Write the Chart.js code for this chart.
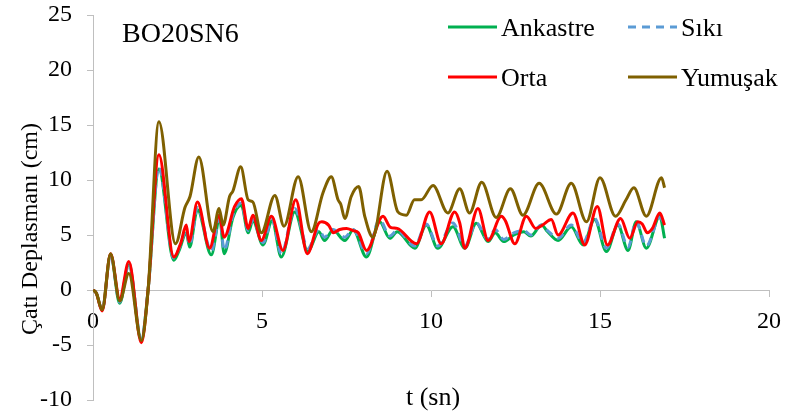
<!DOCTYPE html>
<html>
<head>
<meta charset="utf-8">
<script src="https://cdn.jsdelivr.net/npm/chart.js@4/dist/chart.umd.min.js"></script>
<style>
  html, body { margin: 0; padding: 0; background: #fff; }
  #wrap { width: 786px; height: 416px; }
</style>
</head>
<body>
<div id="wrap"><canvas id="roofChart"></canvas></div>
<script>
// çatı deplasmanı - zaman, [t (sn), deplasman (cm)]
const ankastre = [[0,0],[0.1,-0.3],[0.27,-1.8],[0.52,3.2],[0.79,-1.2],[1.06,2.3],[1.43,-4.5],[1.63,0],[1.95,11.0],
  [2.39,2.7],[2.55,3.6],[2.76,5.2],[2.86,3.9],[3.09,7.3],[3.5,3.2],[3.75,6.5],[3.88,3.3],[4.14,6.6],[4.39,7.7],
  [4.59,5.2],[4.73,6.3],[5.03,4.1],[5.3,6.3],[5.57,3.0],[5.97,7.1],[6.36,3.5],[6.68,5.3],[6.85,4.5],[7.1,5.45],
  [7.45,4.5],[7.7,5.45],[8.09,3.0],[8.48,6.2],[8.78,4.7],[9.0,5.3],[9.52,3.8],[9.86,5.9],[10.2,3.8],[10.65,5.75],
  [11.0,3.8],[11.34,6.06],[11.69,4.4],[11.9,5.2],[12.15,4.4],[12.45,5.0],[12.75,5.3],[12.95,4.9],[13.27,5.9],
  [13.45,5.3],[13.76,4.5],[14.15,5.75],[14.5,4.1],[14.84,6.4],[15.19,3.5],[15.53,5.9],[15.83,3.6],[16.07,6.2],
  [16.37,3.8],[16.77,6.7],[16.91,4.7]];

const siki = [[0,0],[0.1,-0.3],[0.27,-1.8],[0.52,3.2],[0.79,-1.1],[1.06,2.4],[1.43,-4.5],[1.63,0],[1.95,11.2],
  [2.39,2.9],[2.55,3.8],[2.76,5.4],[2.86,4.1],[3.09,7.5],[3.5,3.5],[3.75,6.6],[3.88,3.6],[4.14,6.8],[4.39,7.9],
  [4.59,5.4],[4.73,6.4],[5.03,4.3],[5.3,6.4],[5.57,3.3],[5.97,7.4],[6.36,3.8],[6.68,5.5],[6.85,4.8],[7.1,5.5],
  [7.45,4.8],[7.7,5.5],[8.09,3.3],[8.48,6.4],[8.78,4.9],[9.0,5.4],[9.52,4.0],[9.86,6.0],[10.2,4.0],[10.65,6.1],
  [11.0,4.0],[11.34,6.1],[11.69,4.6],[11.9,5.5],[12.15,4.6],[12.45,5.2],[12.75,5.4],[12.95,5.0],[13.27,5.9],
  [13.45,5.4],[13.76,4.7],[14.15,5.9],[14.5,4.3],[14.84,6.5],[15.19,3.8],[15.53,6.0],[15.83,3.9],[16.07,6.2],
  [16.37,4.0],[16.77,6.6],[16.91,6.0]];

const orta = [[0,0],[0.1,-0.3],[0.27,-1.9],[0.52,3.3],[0.79,-0.8],[1.06,2.6],[1.43,-4.8],[1.63,0],[1.95,12.3],
  [2.39,3.0],[2.6,4.3],[2.76,5.9],[2.84,4.4],[3.09,8.0],[3.45,3.8],[3.73,6.8],[3.88,4.8],[4.19,7.6],[4.39,8.3],
  [4.59,5.6],[4.73,6.8],[4.98,4.5],[5.28,6.7],[5.62,3.6],[6.0,8.2],[6.34,3.3],[6.66,6.0],[6.77,6.2],[6.97,5.9],
  [7.11,5.2],[7.3,5.5],[7.5,5.6],[7.7,5.4],[7.85,5.2],[8.09,3.6],[8.58,6.7],[8.8,5.7],[9.0,5.6],[9.57,4.2],
  [9.96,7.1],[10.3,4.2],[10.7,7.1],[10.85,6.1],[11.0,3.8],[11.39,7.4],[11.69,4.5],[12.08,6.7],[12.2,6.3],
  [12.48,4.2],[12.82,6.7],[13.1,5.6],[13.3,5.9],[13.56,6.4],[13.76,5.0],[14.2,7.0],[14.55,4.1],[14.92,7.6],
  [15.22,4.1],[15.61,6.5],[15.88,4.7],[16.12,6.2],[16.25,6.0],[16.4,5.2],[16.55,5.6],[16.77,7.0],[16.91,5.9]];

const yumusak = [[0,0],[0.1,-0.3],[0.27,-1.8],[0.52,3.3],[0.79,-1.0],[1.06,1.5],[1.43,-4.6],[1.63,0],[1.95,15.3],
  [2.44,4.2],[2.72,7.5],[2.87,8.5],[3.13,12.1],[3.55,5.3],[3.73,7.4],[3.85,5.9],[4.04,8.5],[4.14,9.0],[4.37,11.2],
  [4.59,8.2],[4.73,8.0],[4.98,5.2],[5.38,8.6],[5.65,5.8],[6.07,10.3],[6.46,5.3],[6.8,8.8],[7.05,10.3],[7.25,8.2],
  [7.33,7.8],[7.45,6.5],[7.64,8.5],[7.86,9.4],[8.04,6.7],[8.28,4.8],[8.7,10.8],[9.02,7.1],[9.27,6.8],[9.51,8.2],
  [9.71,8.2],[10.06,9.5],[10.5,7.0],[10.85,9.2],[11.14,7.0],[11.5,9.8],[11.93,6.6],[12.35,9.2],[12.72,6.8],
  [13.2,9.7],[13.71,6.9],[14.15,9.7],[14.6,6.2],[15.0,10.2],[15.46,6.7],[15.77,8.2],[16.0,9.3],[16.37,6.7],
  [16.82,10.2],[16.91,9.3]];

const seriesNames = ['Ankastre', 'Sıkı', 'Orta', 'Yumuşak'];
const xTicks = { min: 0, max: 20, step: 5 };
const yTicks = { min: -10, max: 25, step: 5 };

const serif = "'Liberation Serif', 'Times New Roman', serif";
const axisGray = '#bfbfbf';

function toPoints(arr) {
    return arr.map(p => ({ x: p[0], y: p[1] }));
}

// eksen başlıkları, BO20SN6 etiketi ve 2x2 lejant
const extraText = {
    id: 'extraText',
    afterDraw(chart) {
        const ctx = chart.ctx;
        const area = chart.chartArea;
        ctx.save();
        ctx.fillStyle = '#000';

        // y ekseni başlığı
        ctx.font = '24px ' + serif;
        ctx.textAlign = 'center';
        ctx.textBaseline = 'middle';
        ctx.save();
        ctx.translate(31, 229);
        ctx.rotate(-Math.PI / 2);
        ctx.fillText('Çatı Deplasmanı (cm)', 0, 0);
        ctx.restore();

        // x ekseni başlığı
        ctx.font = '26px ' + serif;
        ctx.fillText('t (sn)', (area.left + area.right) / 2 + 2, 398);

        // model adı
        ctx.font = '28px ' + serif;
        ctx.textAlign = 'left';
        ctx.textBaseline = 'alphabetic';
        ctx.fillText('BO20SN6', 122, 42);

        // lejant
        ctx.font = '26px ' + serif;
        chart.data.datasets.forEach((ds, i) => {
            const col = i % 2;
            const row = Math.floor(i / 2);
            const x0 = 448 + col * 180;
            const y0 = 27 + row * 50;
            ctx.beginPath();
            ctx.strokeStyle = ds.borderColor;
            ctx.lineWidth = 3;
            ctx.setLineDash(ds.borderDash || []);
            ctx.moveTo(x0, y0);
            ctx.lineTo(x0 + 49, y0);
            ctx.stroke();
            ctx.setLineDash([]);
            ctx.fillText(ds.label, x0 + 53, y0 + 9);
        });
        ctx.restore();
    }
};

const lineStyle = { borderWidth: 3, pointRadius: 0, fill: false, cubicInterpolationMode: 'monotone' };

new Chart(document.getElementById('roofChart'), {
    type: 'line',
    data: {
        datasets: [
            { ...lineStyle, label: seriesNames[0], data: toPoints(ankastre), borderColor: '#00B050', order: 4 },
            { ...lineStyle, label: seriesNames[1], data: toPoints(siki), borderColor: '#5B9BD5', borderDash: [8, 6], order: 3 },
            { ...lineStyle, label: seriesNames[2], data: toPoints(orta), borderColor: '#FF0000', order: 2 },
            { ...lineStyle, label: seriesNames[3], data: toPoints(yumusak), borderColor: '#7F6000', order: 1 }
        ]
    },
    options: {
        responsive: true,
        maintainAspectRatio: false,
        animation: false,
        layout: { padding: { top: 15, right: 17, bottom: 16, left: 0 } },
        plugins: { legend: { display: false }, tooltip: { enabled: false } },
        scales: {
            x: {
                type: 'linear',
                min: xTicks.min, max: xTicks.max,
                position: { y: 0 },
                ticks: { stepSize: xTicks.step, color: '#000', font: { family: serif, size: 24 }, padding: 11, maxRotation: 0 },
                grid: { drawOnChartArea: false, tickLength: 6, color: axisGray },
                border: { color: axisGray, width: 1 },
                afterFit: s => { s.height = 0; s.paddingLeft = 0; s.paddingRight = 0; }
            },
            y: {
                min: yTicks.min, max: yTicks.max,
                ticks: { stepSize: yTicks.step, color: '#000', font: { family: serif, size: 24 }, padding: 15 },
                grid: { drawOnChartArea: false, tickLength: 6, color: axisGray },
                border: { color: axisGray, width: 1 },
                afterFit: s => { s.width = 93; s.paddingTop = 0; s.paddingBottom = 0; }
            }
        }
    },
    plugins: [extraText]
});
</script>
</body>
</html>
